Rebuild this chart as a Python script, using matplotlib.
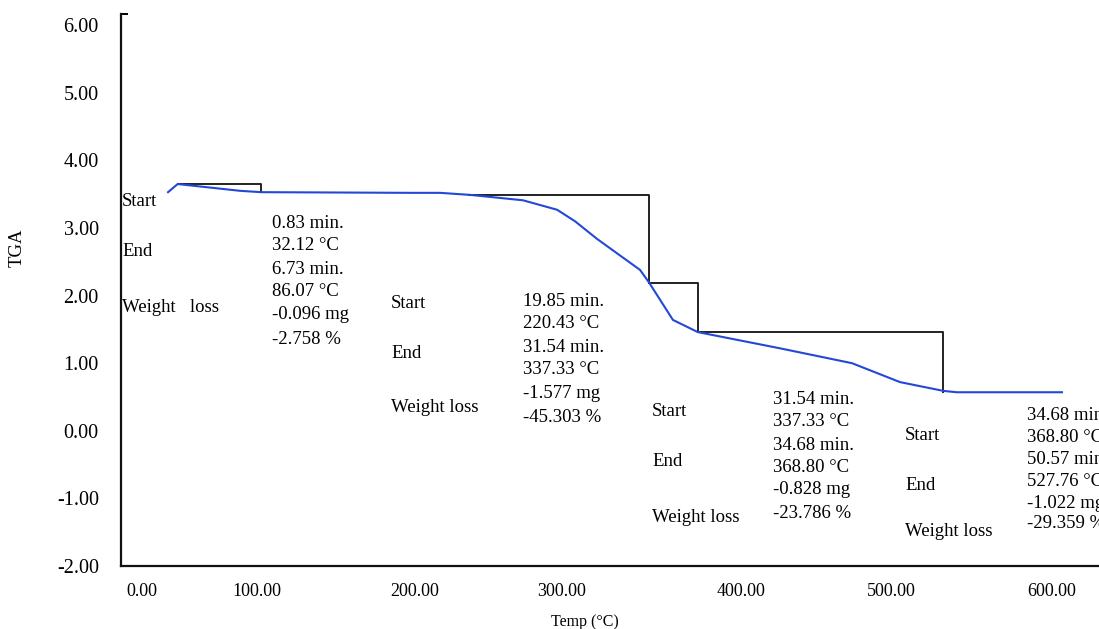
import matplotlib
matplotlib.use("Agg")
import matplotlib.pyplot as plt

plt.rcParams['font.family'] = ['Liberation Serif', 'DejaVu Serif']

# ---- data ----
temp_c = [25.9, 32.12, 72.5, 86.07, 182.5, 201.9, 221.3, 255.6, 277.7, 289.3,
          303.5, 331.4, 337.33, 352.7, 368.80, 422.0, 468.6, 499.7, 527.76, 536.5, 604.5]
tga_mg = [3.53, 3.65, 3.55, 3.53, 3.52, 3.52, 3.49, 3.41, 3.27, 3.10,
          2.84, 2.38, 2.19, 1.64, 1.46, 1.22, 1.00, 0.72, 0.59, 0.57, 0.57]

# step boxes: start temp, end temp, upper level, lower level
step_start = [32.12, 220.43, 337.33, 368.80]
step_end = [86.07, 337.33, 368.80, 527.76]
step_top = [3.65, 3.49, 2.19, 1.46]
step_bottom = [3.53, 2.19, 1.46, 0.58]

step_values = [
    ["0.83 min.", "32.12 °C", "6.73 min.", "86.07 °C", "-0.096 mg", "-2.758 %"],
    ["19.85 min.", "220.43 °C", "31.54 min.", "337.33 °C", "-1.577 mg", "-45.303 %"],
    ["31.54 min.", "337.33 °C", "34.68 min.", "368.80 °C", "-0.828 mg", "-23.786 %"],
    ["34.68 min.", "368.80 °C", "50.57 min.", "527.76 °C", "-1.022 mg", "-29.359 %"],
]
step_labels = [
    ["Start", "End", "Weight   loss"],
    ["Start", "End", "Weight loss"],
    ["Start", "End", "Weight loss"],
    ["Start", "End", "Weight loss"],
]

x_tick_labels = ["0.00", "100.00", "200.00", "300.00", "400.00", "500.00", "600.00"]
y_ticks = [-2, -1, 0, 1, 2, 3, 4, 5, 6]

# ---- layout ----
W, H = 1099, 629
fig = plt.figure(figsize=(W / 100, H / 100), dpi=100)
ax = fig.add_axes([121 / W, 0.1002, 0.9061, 0.878])
ax.set_xlim(-4.55, 640)
ax.set_ylim(-2.0, 6.17)

blue = '#2348d8'
ax.plot(temp_c, tga_mg, color=blue, lw=1.5, zorder=3)
for s, e, t, b in zip(step_start, step_end, step_top, step_bottom):
    ax.plot([s, e, e], [t, t, b], color='#222222', lw=1.4, zorder=2)

for sp in ['top', 'right']:
    ax.spines[sp].set_visible(False)
for sp in ['left', 'bottom']:
    ax.spines[sp].set_linewidth(1.6)
    ax.spines[sp].set_color('#111111')

x_tick_pos = [9.05, 83.5, 185.7, 280.9, 396.7, 493.8, 598.0]
ax.set_xticks(x_tick_pos, x_tick_labels)
ax.set_yticks(y_ticks, [f"{v:.2f}" for v in y_ticks])
ax.tick_params(axis='x', length=0, pad=12, labelsize=13)
ax.tick_params(axis='y', length=0, pad=16, labelsize=14.5)
ax.set_yticks([6.17], minor=True)
ax.tick_params(axis='y', which='minor', direction='in', length=5, width=1.4)

fig.text(17 / W, 1 - 248 / H, "TGA", rotation=90, ha='center', va='center', fontsize=13.5)
fig.text(585 / W, 1 - 622 / H, "Temp (°C)", ha='center', va='center', fontsize=11.5)

# annotation text positions (pixels)
label_x = [122, 391, 652, 905]
label_y = [[202, 252, 308], [303, 353, 408], [412, 462, 517], [435, 485, 532]]
value_x = [272, 523, 773, 1027]
value_y = [[223, 246, 269, 292, 315, 339],
           [302, 323, 348, 370, 393, 417],
           [400, 422, 445, 467, 490, 513],
           [415, 437, 459, 482, 503, 524]]

for g in range(4):
    for txt, py in zip(step_labels[g], label_y[g]):
        fig.text(label_x[g] / W, 1 - py / H, txt, ha='left', va='center', fontsize=13.5)
    for txt, py in zip(step_values[g], value_y[g]):
        fig.text(value_x[g] / W, 1 - py / H, txt, ha='left', va='center', fontsize=13.5)

fig.savefig("out.png", dpi=100)
